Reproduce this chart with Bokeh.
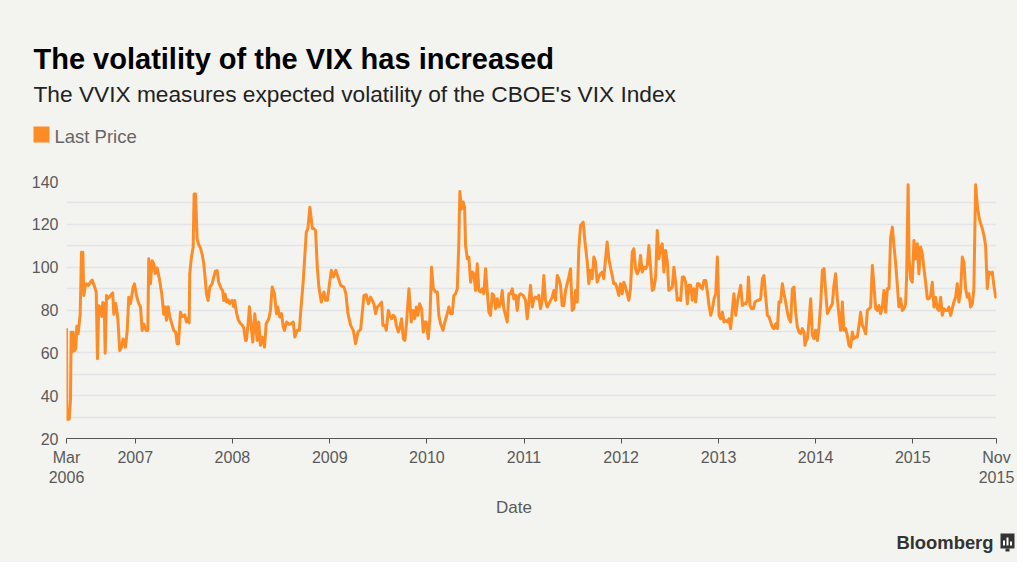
from bokeh.plotting import figure
from bokeh.layouts import column
from bokeh.models import (Range1d, FixedTicker, CustomJSTickFormatter, ColumnDataSource)
from bokeh.core.properties import value
from bokeh.embed import file_html
from bokeh.resources import INLINE
import pandas as pd

# ---------------- data ----------------
TITLE = "The volatility of the VIX has increased"
SUBTITLE = "The VVIX measures expected volatility of the CBOE's VIX Index"
SERIES_NAME = "Last Price"
X_LABEL = "Date"
SOURCE = "Bloomberg"

# dates as decimal years
date_dec = [
    2006.292, 2006.296, 2006.320, 2006.333, 2006.340, 2006.351, 2006.361, 2006.374, 2006.388, 2006.398,
    2006.412, 2006.433, 2006.446, 2006.460, 2006.470, 2006.484, 2006.498, 2006.518, 2006.539, 2006.556,
    2006.583, 2006.598, 2006.611, 2006.624, 2006.642, 2006.649, 2006.655, 2006.666, 2006.680, 2006.690,
    2006.704, 2006.721, 2006.745, 2006.768, 2006.779, 2006.799, 2006.820, 2006.840, 2006.858, 2006.875,
    2006.899, 2006.917, 2006.933, 2006.951, 2006.978, 2006.992, 2007.012, 2007.036, 2007.054, 2007.071,
    2007.087, 2007.112, 2007.129, 2007.139, 2007.156, 2007.174, 2007.190, 2007.205, 2007.225, 2007.252,
    2007.273, 2007.293, 2007.308, 2007.321, 2007.339, 2007.355, 2007.380, 2007.396, 2007.417, 2007.431,
    2007.445, 2007.465, 2007.483, 2007.509, 2007.527, 2007.540, 2007.555, 2007.561, 2007.578, 2007.596,
    2007.606, 2007.620, 2007.637, 2007.653, 2007.671, 2007.688, 2007.705, 2007.719, 2007.733, 2007.750,
    2007.767, 2007.791, 2007.808, 2007.825, 2007.843, 2007.859, 2007.884, 2007.900, 2007.911, 2007.925,
    2007.939, 2007.956, 2007.972, 2007.997, 2008.014, 2008.024, 2008.041, 2008.059, 2008.083, 2008.100,
    2008.117, 2008.134, 2008.144, 2008.162, 2008.175,
    2008.209, 2008.230, 2008.254, 2008.271, 2008.288, 2008.306, 2008.330, 2008.347, 2008.374, 2008.391,
    2008.409, 2008.432, 2008.453, 2008.466, 2008.487, 2008.505, 2008.522, 2008.535, 2008.556, 2008.580,
    2008.604, 2008.625, 2008.641, 2008.666, 2008.687, 2008.700, 2008.728, 2008.759, 2008.775, 2008.796,
    2008.821, 2008.837, 2008.854, 2008.872, 2008.888, 2008.913, 2008.940, 2008.957, 2008.975, 2008.995,
    2009.016, 2009.037, 2009.063, 2009.084, 2009.112, 2009.146, 2009.166, 2009.187, 2009.215, 2009.242,
    2009.266, 2009.290, 2009.318,
    2009.352, 2009.376, 2009.397, 2009.420, 2009.438, 2009.454, 2009.472, 2009.489, 2009.506, 2009.534,
    2009.547, 2009.568, 2009.582, 2009.603, 2009.619, 2009.637, 2009.654, 2009.671, 2009.685, 2009.706,
    2009.722, 2009.740, 2009.757, 2009.773, 2009.791, 2009.815, 2009.839, 2009.856, 2009.873, 2009.891,
    2009.907, 2009.925, 2009.945, 2009.963, 2009.979, 2009.994, 2010.014, 2010.031, 2010.048, 2010.066,
    2010.089,
    2010.107, 2010.123, 2010.141, 2010.165, 2010.185, 2010.210, 2010.226, 2010.244, 2010.261, 2010.278,
    2010.295, 2010.313, 2010.329, 2010.339, 2010.357, 2010.374, 2010.388, 2010.398, 2010.416, 2010.432,
    2010.450, 2010.467, 2010.484, 2010.501, 2010.519, 2010.535, 2010.553, 2010.570, 2010.586, 2010.604,
    2010.621, 2010.638, 2010.655, 2010.673, 2010.689, 2010.707, 2010.724, 2010.741, 2010.758, 2010.776,
    2010.792, 2010.810, 2010.827, 2010.844, 2010.861, 2010.879, 2010.895, 2010.913, 2010.930, 2010.947,
    2010.964, 2010.992, 2011.016, 2011.033, 2011.050, 2011.067, 2011.085, 2011.101, 2011.119, 2011.136,
    2011.152, 2011.170, 2011.187, 2011.204, 2011.221, 2011.239, 2011.255, 2011.273, 2011.290, 2011.307,
    2011.324, 2011.342, 2011.358, 2011.376, 2011.393, 2011.410, 2011.427, 2011.445, 2011.461, 2011.479,
    2011.496, 2011.513, 2011.530, 2011.548, 2011.564, 2011.582, 2011.609, 2011.626, 2011.651, 2011.667,
    2011.685, 2011.702, 2011.719, 2011.736, 2011.753, 2011.770, 2011.787, 2011.805, 2011.821, 2011.839,
    2011.856, 2011.873, 2011.890, 2011.908, 2011.924, 2011.942, 2011.959, 2011.976, 2011.993,
    2012.011, 2012.027, 2012.045, 2012.062, 2012.079, 2012.096, 2012.114, 2012.130, 2012.148, 2012.165,
    2012.182, 2012.199, 2012.217, 2012.233, 2012.251, 2012.268, 2012.285, 2012.302, 2012.320, 2012.336,
    2012.354, 2012.371, 2012.387, 2012.405, 2012.422, 2012.439, 2012.456, 2012.474, 2012.490, 2012.508,
    2012.525, 2012.542, 2012.559, 2012.577, 2012.593, 2012.611, 2012.628, 2012.645, 2012.662, 2012.680,
    2012.696, 2012.714, 2012.731, 2012.748, 2012.765, 2012.783, 2012.799, 2012.817, 2012.834, 2012.851,
    2012.868, 2012.886, 2012.902, 2012.920, 2012.937, 2012.954, 2012.971, 2012.988, 2013.005, 2013.022,
    2013.040, 2013.056, 2013.074, 2013.091, 2013.108, 2013.125, 2013.143, 2013.159, 2013.177, 2013.194,
    2013.211, 2013.228, 2013.246, 2013.262, 2013.280, 2013.297, 2013.308, 2013.324, 2013.341, 2013.359,
    2013.375, 2013.400, 2013.417, 2013.434, 2013.452, 2013.468, 2013.486, 2013.503, 2013.520, 2013.537,
    2013.555, 2013.571, 2013.589, 2013.606, 2013.622, 2013.640, 2013.657, 2013.674, 2013.691, 2013.709,
    2013.725, 2013.743, 2013.760, 2013.777, 2013.794, 2013.812, 2013.828, 2013.846, 2013.863, 2013.880,
    2013.890,
    2013.897, 2013.915, 2013.931, 2013.949, 2013.966, 2013.983, 2014.000, 2014.018, 2014.034, 2014.052,
    2014.069, 2014.086, 2014.103, 2014.121, 2014.137, 2014.155, 2014.172, 2014.188, 2014.206, 2014.223,
    2014.240, 2014.257, 2014.275, 2014.291, 2014.309, 2014.326, 2014.343, 2014.360, 2014.378, 2014.394,
    2014.412, 2014.429, 2014.446, 2014.463, 2014.481, 2014.497, 2014.515, 2014.532, 2014.549, 2014.566,
    2014.584, 2014.600, 2014.618, 2014.635, 2014.652, 2014.669, 2014.687, 2014.703, 2014.721, 2014.738,
    2014.755, 2014.772, 2014.790, 2014.806, 2014.824, 2014.841, 2014.857, 2014.875, 2014.892, 2014.909,
    2014.926, 2014.937, 2014.952, 2014.962, 2014.978, 2014.995, 2015.012, 2015.029, 2015.047, 2015.063,
    2015.081, 2015.098, 2015.115, 2015.132, 2015.150, 2015.166, 2015.184, 2015.201, 2015.218, 2015.235,
    2015.253, 2015.269, 2015.287, 2015.304, 2015.321, 2015.338, 2015.356, 2015.372, 2015.390, 2015.407,
    2015.423, 2015.441, 2015.458, 2015.475, 2015.492, 2015.510, 2015.526, 2015.544, 2015.561, 2015.578,
    2015.595, 2015.613, 2015.629, 2015.647, 2015.667, 2015.688, 2015.709, 2015.732, 2015.750, 2015.767,
    2015.784, 2015.801, 2015.819, 2015.835, 2015.853, 2015.862,
]

last_price = [
    71.5, 29.0, 29.0, 38.0, 69.6, 60.3, 69.6, 61.0, 62.0, 72.4,
    69.0, 78.0, 107.0, 107.0, 86.8, 91.0, 92.2, 91.5, 93.0, 94.0,
    90.6, 88.3, 57.2, 82.0, 78.0, 81.5, 77.0, 83.5, 83.0, 59.8,
    86.8, 85.5, 86.8, 88.0, 78.0, 83.0, 76.5, 61.0, 62.6, 66.5,
    62.6, 70.3, 86.0, 83.0, 90.6, 92.2, 86.8, 83.0, 81.5, 70.4,
    73.5, 70.4, 70.4, 103.9, 92.2, 103.0, 101.7, 97.0, 99.7, 93.7,
    87.5, 78.0, 81.5, 75.2, 81.5, 76.9, 73.0, 70.5, 69.6, 64.2,
    64.2, 79.0, 76.9, 77.7, 74.4, 76.0, 74.0, 97.0, 104.6, 109.3,
    134.2, 134.2, 113.2, 110.5, 109.0, 106.1, 101.7, 95.3, 87.5, 84.4,
    90.6, 92.2, 95.3, 98.1, 98.4, 93.0, 90.0, 89.0, 84.4, 87.5,
    83.7, 84.8, 83.0, 84.5, 81.5, 84.4, 79.0, 75.6, 73.7, 73.0,
    71.6, 65.8, 65.8, 73.7, 81.5,
    65.0, 78.3, 65.8, 74.4, 63.5, 67.4, 62.7, 73.6, 75.9, 79.8,
    90.7, 87.6, 78.3, 81.4, 76.7, 78.3, 72.0, 70.5, 74.4, 73.3,
    73.6, 74.4, 67.4, 70.5, 70.5, 78.3, 93.8, 116.4, 118.0, 128.0,
    118.0, 118.0, 117.1, 100.0, 90.7, 83.7, 88.4, 84.5, 84.5, 91.5,
    98.5, 95.4, 98.5, 95.4, 91.5, 90.7, 87.6, 78.3, 72.8, 70.5,
    64.3, 69.7, 71.0,
    86.8, 87.1, 82.9, 86.0, 84.5, 82.9, 78.3, 81.4, 82.1, 83.7,
    72.8, 72.8, 70.5, 79.8, 77.5, 75.9, 77.5, 76.7, 72.8, 69.7,
    72.0, 75.9, 66.6, 65.8, 74.4, 89.9, 74.4, 79.8, 75.9, 81.4,
    77.5, 82.9, 80.6, 69.7, 74.4, 74.4, 66.6, 75.9, 100.0, 89.9,
    88.4,
    88.4, 77.5, 73.6, 70.5, 74.4, 78.3, 81.4, 78.3, 78.3, 86.8,
    87.6, 89.9, 111.7, 135.3, 127.2, 130.4, 128.0, 110.1, 103.9, 104.7,
    93.0, 97.7, 96.9, 89.1, 101.6, 89.1, 88.4, 89.9, 87.6, 99.3,
    89.1, 79.0, 77.5, 87.6, 86.8, 80.6, 85.3, 81.4, 82.9, 89.1,
    80.6, 77.5, 74.4, 87.6, 87.6, 89.9, 85.3, 86.8, 79.8, 86.8,
    87.6, 86.8, 84.5, 75.9, 83.7, 91.5, 81.4, 85.3, 86.0, 85.3,
    86.8, 80.6, 84.5, 96.1, 84.5, 81.4, 82.9, 84.5, 86.0, 89.1,
    84.5, 96.1, 94.6, 91.5, 82.1, 82.1, 89.1, 92.3, 95.4, 99.3,
    79.8, 80.6, 89.1, 83.7, 108.6, 119.5, 121.0, 112.5, 102.4, 92.3,
    98.5, 94.6, 104.7, 102.4, 93.0, 95.4, 96.9, 97.7, 94.6, 103.9,
    111.7, 103.9, 100.0, 96.1, 92.3, 92.3, 89.9, 86.8, 92.3,
    87.6, 93.0, 90.7, 87.6, 84.5, 89.9, 107.0, 108.6, 99.3, 96.9,
    98.5, 105.5, 97.7, 100.0, 99.3, 100.8, 110.1, 100.0, 89.1, 89.9,
    95.4, 117.1, 103.9, 108.6, 110.9, 97.7, 107.8, 102.4, 89.1, 89.9,
    90.7, 100.0, 93.0, 84.5, 85.3, 84.5, 95.4, 95.4, 93.0, 82.9,
    91.5, 91.5, 84.5, 89.9, 83.7, 92.3, 92.3, 90.7, 89.9, 93.8,
    93.8, 88.4, 82.1, 77.5, 80.6, 85.3, 87.6, 104.7, 77.5, 75.9,
    79.0, 74.4, 75.1, 74.4, 75.9, 71.3, 80.6, 87.6, 77.5, 83.7,
    87.6, 91.5, 82.1, 82.9, 82.9, 84.5, 95.4, 82.1, 80.6, 80.6,
    83.7, 84.5, 84.5, 85.3, 94.6, 96.1, 86.0, 77.5, 76.7, 74.4,
    72.0, 71.3, 73.6, 71.3, 83.7, 83.7, 92.3, 87.6, 83.7, 79.0,
    75.9, 74.4, 89.9, 90.7, 79.0, 72.0, 69.7, 69.0, 71.3, 69.7,
    63.5,
    65.0, 66.6, 74.4, 85.3, 68.2, 66.6, 70.5, 65.8, 72.0, 82.9,
    98.5, 99.3, 88.4, 78.3, 79.8, 81.4, 82.9, 91.5, 96.9, 85.3,
    77.5, 70.5, 83.7, 70.5, 71.3, 68.2, 63.5, 62.7, 69.7, 66.6,
    67.4, 67.4, 72.8, 79.0, 72.8, 71.3, 68.9, 79.8, 80.6, 81.4,
    100.8, 91.5, 80.6, 79.8, 82.1, 78.3, 81.4, 89.1, 79.0, 89.9,
    89.9, 114.0, 118.7, 110.1, 101.6, 91.5, 81.4, 85.3, 79.8, 80.6,
    82.9, 96.1, 138.5, 103.9, 94.6, 93.0, 112.5, 103.9, 110.9, 96.9,
    109.4, 106.3, 99.3, 93.0, 85.3, 85.3, 86.8, 93.0, 81.4, 86.0,
    80.6, 79.8, 86.0, 77.5, 80.6, 79.8, 79.8, 81.4, 77.5, 80.6,
    83.7, 86.0, 92.3, 83.7, 88.4, 104.7, 102.4, 89.9, 86.0, 87.6,
    81.4, 82.9, 89.9, 138.5, 127.5, 122.0, 119.0, 115.0, 110.0, 90.0,
    97.7, 96.9, 97.7, 91.5, 86.0, 88.5,
]

x_start_dec = 2006.292
x_end_dec = 2015.862
x_tick_dec = [2006.292, 2007, 2008, 2009, 2010, 2011, 2012, 2013, 2014, 2015, 2015.862]
x_tick_labels = ["Mar\n2006", "2007", "2008", "2009", "2010", "2011", "2012",
                 "2013", "2014", "2015", "Nov\n2015"]
y_ticks = [20, 40, 60, 80, 100, 120, 140]
y_grid = [30, 40, 50, 60, 70, 80, 90, 100, 110, 120, 130, 140]

# ---------------- helpers ----------------
def dec_to_ts(d):
    yr = int(d)
    a = pd.Timestamp(year=yr, month=1, day=1)
    b = pd.Timestamp(year=yr + 1, month=1, day=1)
    return a + (b - a) * (d - yr)

dates = pd.to_datetime([dec_to_ts(d) for d in date_dec])
src = ColumnDataSource(dict(date=dates, price=last_price))

def ms(ts):
    return ts.value / 1e6

ticks_ms = [ms(dec_to_ts(d)) for d in x_tick_dec]
ticks_ms[0] += 3.6e6
ticks_ms[-1] -= 3.6e6

W = 1017
BG = "#f3f3ef"
ORANGE = "#fd8c26"
TXT = "#5a5a5a"
FONT = "Liberation Sans"


def no_title_no_align(f):
    try:
        f.title_location = None
    except Exception:
        f.title.visible = False
    try:
        f.frame_align = False
    except Exception:
        pass


def panel(height):
    f = figure(width=W, height=height, output_backend="svg", toolbar_location=None,
               x_range=Range1d(0, W), y_range=Range1d(height, 0),
               x_axis_type=None, y_axis_type=None,
               min_border=0, min_border_left=0, min_border_right=0,
               min_border_top=0, min_border_bottom=0)
    f.background_fill_color = BG
    f.border_fill_color = BG
    f.outline_line_color = None
    f.xgrid.visible = False
    f.ygrid.visible = False
    no_title_no_align(f)
    return f

# ---------------- header ----------------
HEAD_H = 160
head = panel(HEAD_H)
head.text(x=[33], y=[58], text=[TITLE], text_font=value(FONT), text_font_style="bold",
          text_font_size=value("29px"), text_color="#000000",
          text_baseline="alphabetic", text_align="left")
head.text(x=[33], y=[93], text=[SUBTITLE], text_font=value(FONT),
          text_font_size=value("22.7px"), text_color="#222222",
          text_baseline="alphabetic", text_align="left")
head.quad(left=[33], right=[49], top=[126], bottom=[142], fill_color=ORANGE,
          line_color=None)
head.text(x=[54], y=[136], text=[SERIES_NAME], text_font=value(FONT),
          text_font_size=value("18.5px"), text_color="#666666",
          text_baseline="alphabetic", text_align="left")

# ---------------- chart ----------------
CH_TOP = 160
CH_H = 335
p = figure(width=W, height=CH_H, x_axis_type="datetime",
           output_backend="svg", toolbar_location=None,
           x_range=Range1d(dec_to_ts(x_start_dec), dec_to_ts(x_end_dec)),
           y_range=Range1d(20, 140),
           min_border_left=66, min_border_right=W - 996,
           min_border_top=181 - CH_TOP, min_border_bottom=CH_TOP + CH_H - 438)
p.background_fill_color = BG
p.border_fill_color = BG
p.outline_line_color = None
no_title_no_align(p)

p.line("date", "price", source=src, line_color=ORANGE, line_width=3,
       line_join="round")

p.xgrid.visible = False
p.ygrid.ticker = FixedTicker(ticks=y_grid)
p.ygrid.grid_line_color = "#e3e4e8"
p.ygrid.grid_line_width = 1.5

xa = p.xaxis[0]
xa.ticker = FixedTicker(ticks=ticks_ms)
xa.formatter = CustomJSTickFormatter(args=dict(tks=ticks_ms, labels=x_tick_labels), code="""
let best = 0;
for (let i = 0; i < tks.length; i++) {
  if (Math.abs(tks[i] - tick) < Math.abs(tks[best] - tick)) best = i;
}
return labels[best];
""")
xa.axis_line_color = "#555555"
xa.axis_line_width = 1
xa.major_tick_line_color = "#555555"
xa.major_tick_out = 5
xa.major_tick_in = 0
xa.minor_tick_line_color = None
xa.major_label_text_font = FONT
xa.major_label_text_font_size = "16px"
xa.major_label_text_color = TXT
xa.major_label_standoff = 5

ya = p.yaxis[0]
ya.ticker = FixedTicker(ticks=y_ticks)
ya.axis_line_color = None
ya.major_tick_line_color = None
ya.minor_tick_line_color = None
ya.major_tick_out = 0
ya.major_label_standoff = 8
ya.major_label_text_font = FONT
ya.major_label_text_font_size = "16px"
ya.major_label_text_color = TXT

# ---------------- footer ----------------
FT_TOP = CH_TOP + CH_H
FT_H = 562 - FT_TOP
foot = panel(FT_H)
foot.text(x=[513.5], y=[507 - FT_TOP], text=[X_LABEL], text_font=value(FONT),
          text_font_size=value("17px"), text_color=TXT,
          text_baseline="alphabetic", text_align="center")
foot.text(x=[993], y=[542 - FT_TOP], text=[SOURCE], text_font=value(FONT),
          text_font_style="bold", text_font_size=value("18.4px"), text_color="#333333",
          text_baseline="alphabetic", text_align="right")
# small logo mark
foot.quad(left=[1000], right=[1014], top=[533 - FT_TOP], bottom=[548 - FT_TOP],
          fill_color="#333333", line_color=None)
foot.quad(left=[1005], right=[1009], top=[548 - FT_TOP], bottom=[551 - FT_TOP],
          fill_color="#333333", line_color=None)
foot.quad(left=[1002.5, 1006, 1009.5], right=[1004.5, 1008, 1011.5],
          top=[540 - FT_TOP, 537 - FT_TOP, 541 - FT_TOP],
          bottom=[545 - FT_TOP] * 3, fill_color="#ffffff", line_color=None)

layout = column(head, p, foot, spacing=0, styles={"background-color": BG})
open("out.html", "w").write(file_html(layout, INLINE))
